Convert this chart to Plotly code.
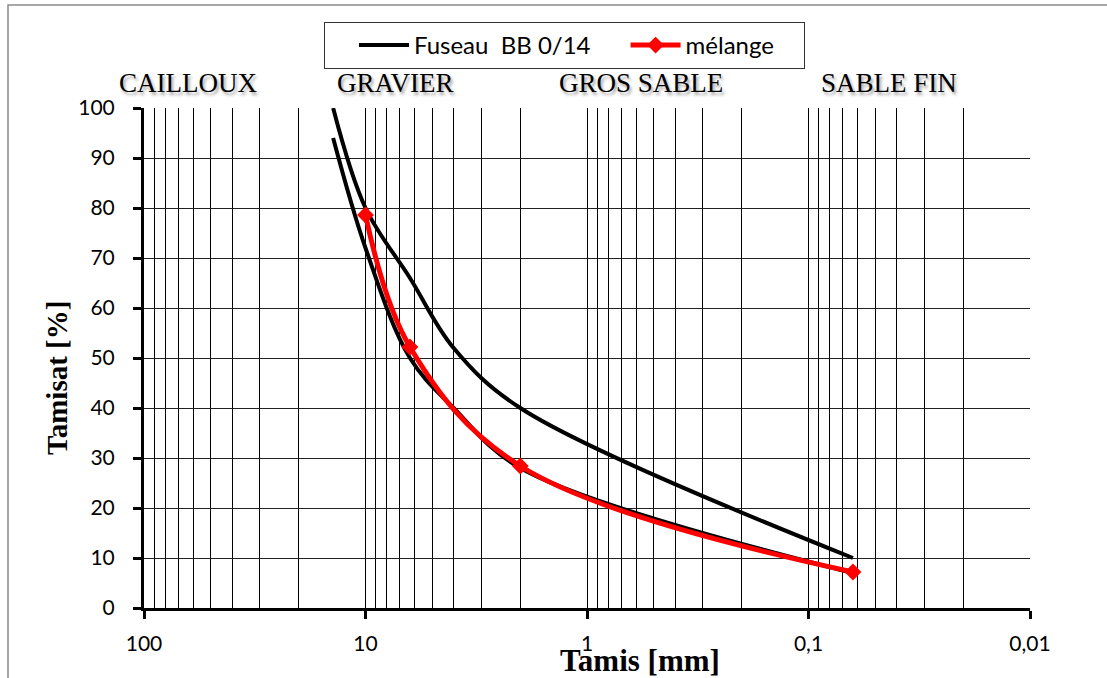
import plotly.graph_objects as go

# Sieve openings (mm) and passing percentages
fuseau_sieves = [14, 10, 6.3, 4, 2, 0.063]
fuseau_min = [94, 72, 50, 40, 28, 7]
fuseau_max = [100, 80, 66, 52, 40, 10]

melange_sieves = [10, 6.3, 2, 0.063]
melange_passing = [78.6, 52.2, 28.4, 7.2]

x_tickvals = [100, 10, 1, 0.1, 0.01]
x_ticktext = ["100", "10", "1", "0,1", "0,01"]
y_tickvals = list(range(0, 101, 10))

zones = ["CAILLOUX", "GRAVIER", "GROS SABLE", "SABLE FIN"]

W, H = 1107, 678
ML, MR, MT, MB = 144, 77, 108, 70
PW, PH = W - ML - MR, H - MT - MB
DECADE = PW / 4.0

# horizontal pixel centres of the zone headings above the plot
zone_px = [188, 395, 641, 889]

minor_vals = [k * 10.0 ** e for e in range(-2, 2) for k in range(2, 10)]

tick_font = dict(family="Lato, Carlito, sans-serif", size=21, color="black")
serif = "Liberation Serif, Times New Roman, serif"

fig = go.Figure()

fig.add_trace(go.Scatter(
    x=fuseau_sieves, y=fuseau_max, mode="lines",
    line=dict(color="black", width=4, shape="spline", smoothing=1.0),
    name="Fuseau\u00a0 BB 0/14", legendgroup="fuseau",
))
fig.add_trace(go.Scatter(
    x=fuseau_sieves, y=fuseau_min, mode="lines",
    line=dict(color="black", width=4, shape="spline", smoothing=1.0),
    name="Fuseau\u00a0 BB 0/14", legendgroup="fuseau", showlegend=False,
))
fig.add_trace(go.Scatter(
    x=melange_sieves, y=melange_passing, mode="lines+markers",
    line=dict(color="#ff0000", width=5, shape="spline", smoothing=1.05),
    marker=dict(symbol="diamond", size=13, color="#ff0000"),
    name="mélange\u00a0\u00a0\u00a0\u00a0",
))

for label, px in zip(zones, zone_px):
    fig.add_annotation(
        x=2 - (px - ML) / DECADE, y=1, xref="x", yref="paper",
        xanchor="center", yanchor="bottom",
        yshift=8, text=label, showarrow=False,
        font=dict(family=serif, size=27, color="black",
                  shadow="2px 3px 3px rgba(0,0,0,0.35)"),
    )

fig.add_annotation(
    x=(640 - ML) / PW, y=0, xref="paper", yref="paper",
    xanchor="center", yanchor="top", yshift=-33,
    text="<b>Tamis [mm]</b>", showarrow=False,
    font=dict(family=serif, size=31, color="black"),
)
fig.add_annotation(
    x=(57 - ML) / PW, y=(H - MB - 378) / PH, xref="paper", yref="paper",
    xanchor="center", yanchor="middle",
    text="<b>Tamisat [%]</b>", textangle=-90, showarrow=False,
    font=dict(family=serif, size=29, color="black"),
)

# outer frame of the chart
fig.add_shape(
    type="rect", xref="paper", yref="paper",
    x0=(8 - ML) / PW, x1=(W + 20 - ML) / PW,
    y0=-(MB + 20) / PH, y1=(H - MB - 5) / PH,
    line=dict(color="#8a8a8a", width=1.5), fillcolor="rgba(0,0,0,0)",
    layer="below",
)

fig.update_layout(
    width=W, height=H,
    margin=dict(l=ML, r=MR, t=MT, b=MB),
    paper_bgcolor="white", plot_bgcolor="white",
    showlegend=True,
    legend=dict(
        orientation="h", x=(324 - ML) / PW, y=(H - MB - 22) / PH,
        xanchor="left", yanchor="top",
        bordercolor="#333", borderwidth=1, bgcolor="white",
        font=dict(family="Lato, Carlito, sans-serif", size=24, color="black"),
        indentation=30, itemwidth=50,
    ),
    xaxis=dict(
        type="log", range=[2, -2],
        tickvals=x_tickvals, ticktext=x_ticktext,
        showgrid=True, gridcolor="black", gridwidth=1,
        showline=True, linecolor="black", linewidth=3,
        ticks="outside", ticklen=8, tickwidth=3, tickcolor="black",
        tickfont=tick_font, ticklabelstandoff=7,
        minor=dict(tickvals=minor_vals, showgrid=True,
                   gridcolor="black", gridwidth=1, ticks=""),
        zeroline=False,
    ),
    yaxis=dict(
        range=[0, 100], tickvals=y_tickvals,
        showgrid=True, gridcolor="#222", gridwidth=1,
        showline=True, linecolor="black", linewidth=3,
        ticks="outside", ticklen=8, tickwidth=3, tickcolor="black",
        tickfont=tick_font, ticklabelstandoff=14,
        zeroline=False,
    ),
)

fig.write_html("out.html")
